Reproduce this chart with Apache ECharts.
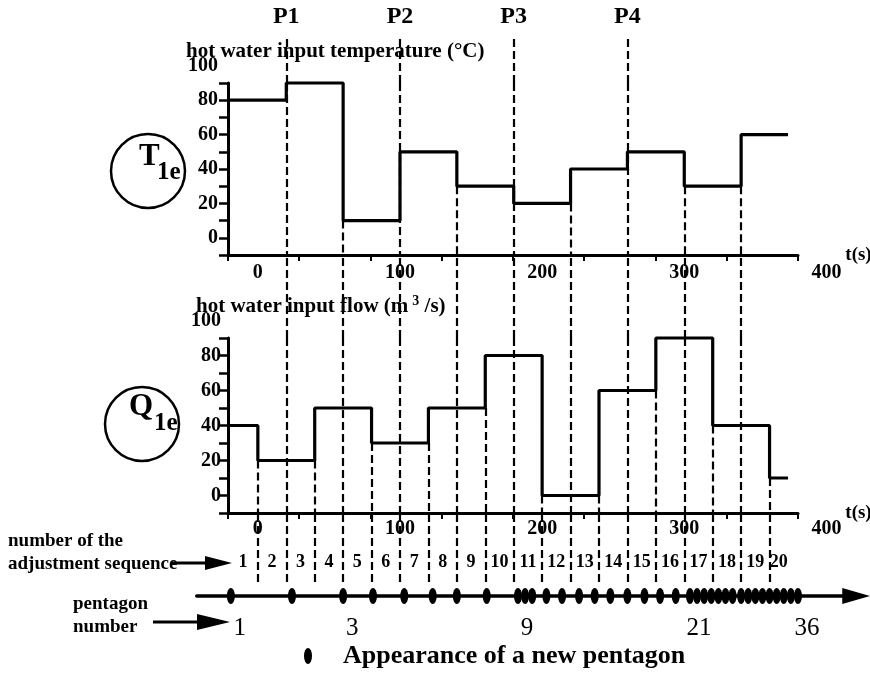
<!DOCTYPE html>
<html><head><meta charset="utf-8">
<script src="https://cdn.jsdelivr.net/npm/echarts@6/dist/echarts.min.js"></script>
<style>html,body{margin:0;padding:0;background:#fff}#c{width:870px;height:674px}</style>
</head><body><div id="c"></div>
<script>
// ---------------- data ----------------
const timeTickLabels = [0, 100, 200, 300, 400];
const valueTickLabels = [0, 20, 40, 60, 80, 100];
const signalStart = -21;            // the step signals start at the value axis
const signalEnd = 373;
const tempChangeTimes = [20, 60, 100, 140, 180, 220, 260, 300, 340];
const tempLevels = [80, 90, 10, 50, 30, 20, 40, 50, 30, 60];
const flowChangeTimes = [0, 40, 80, 120, 160, 200, 240, 280, 320, 360];
const flowLevels = [40, 20, 50, 30, 50, 80, 0, 60, 90, 40, 10];
const pointNames = ['P1', 'P2', 'P3', 'P4'];
const pointTimes = [20, 100, 180, 260];
const sequenceNumbers = [1, 2, 3, 4, 5, 6, 7, 8, 9, 10, 11, 12, 13, 14, 15, 16, 17, 18, 19, 20];
const pentagonTimes = [-19, 24, 60, 81, 103, 123, 140, 161, 183, 188, 193,
  203, 214, 226, 237, 248, 260, 272, 283, 294,
  304, 309, 314, 319, 324, 329, 334, 340, 345, 350, 355, 360, 365, 370, 375, 380];
const pentagonLabelNumbers = [1, 3, 9, 21, 36];
const legendName = 'Appearance of a new pentagon';

// ---------------- layout ----------------
const FONT = "'Liberation Serif','Times New Roman',serif";
const X0 = 257.85, XS = 1.4214;          // px of t = 0, px per second
const AX_MIN = -21, AX_MAX = 380, LAB_MAX = 400;
const VMIN = -10, VMAX = 90, LAB_VMAX = 100;
const T_BOTTOM = 255, T_PX = 1.72, Q_BOTTOM = 513, Q_PX = 1.75;
const SEQ_LABEL_Y = 0.28;
const ELLIPSE = 'path://M0,10A5,10 0 1,1 10,10A5,10 0 1,1 0,10Z';

function hGrid(a, b) { return { left: X0 + a * XS, width: (b - a) * XS }; }
function vGrid(bottom, px, a, b) { return { top: bottom - (b - a) * px, height: (b - a) * px }; }
function grid(h, v) { return Object.assign({ outerBoundsMode: 'none', containLabel: false }, h, v); }
const tTop = T_BOTTOM - (VMAX - VMIN) * T_PX;

const grids = [
  grid(hGrid(AX_MIN, AX_MAX), { top: 35, height: tTop - 35 }),                 // 0 P-line tops
  grid(hGrid(AX_MIN, AX_MAX), vGrid(T_BOTTOM, T_PX, VMIN, VMAX)),              // 1 temperature
  grid(hGrid(AX_MIN, LAB_MAX), vGrid(T_BOTTOM, T_PX, VMIN, LAB_VMAX)),         // 2 temperature labels
  grid(hGrid(AX_MIN, AX_MAX), { top: T_BOTTOM, height: Q_BOTTOM - (VMAX - VMIN) * Q_PX - T_BOTTOM }), // 3 gap
  grid(hGrid(AX_MIN, AX_MAX), vGrid(Q_BOTTOM, Q_PX, VMIN, VMAX)),              // 4 flow
  grid(hGrid(AX_MIN, LAB_MAX), vGrid(Q_BOTTOM, Q_PX, VMIN, LAB_VMAX)),         // 5 flow labels
  grid(hGrid(AX_MIN, AX_MAX), { top: Q_BOTTOM, height: 69 }),                  // 6 sequence row
  grid(hGrid(-43, 421), { top: 576, height: 20 })                              // 7 pentagon row
];

const black = '#000';
const labelFont = { fontFamily: FONT, fontSize: 20, fontWeight: 'bold', color: black };
function hiddenX(gi, a, b) { return { gridIndex: gi, type: 'value', min: a, max: b, show: false }; }
function hiddenY(gi, a, b) { return { gridIndex: gi, type: 'value', min: a, max: b, show: false }; }
function evenTicks(a, b, n) { const r = []; for (let k = 0; k <= n; k++) r.push(a + k * (b - a) / n); return r; }

function lineX(gi) {
  return { gridIndex: gi, type: 'value', min: AX_MIN, max: AX_MAX,
    axisLine: { show: true, onZero: false, lineStyle: { color: black, width: 3 } },
    axisTick: { show: true, length: 6, lineStyle: { color: black, width: 2 }, customValues: evenTicks(AX_MIN, AX_MAX, 8) },
    axisLabel: { show: false }, splitLine: { show: false } };
}
function lineY(gi) {
  return { gridIndex: gi, type: 'value', min: VMIN, max: VMAX, interval: 10,
    axisLine: { show: true, onZero: false, lineStyle: { color: black, width: 3 } },
    axisTick: { show: true, length: 9, lineStyle: { color: black, width: 2.5 } },
    axisLabel: { show: false }, splitLine: { show: false } };
}
function labelX(gi, margin, namePad) {
  return { gridIndex: gi, type: 'value', min: AX_MIN, max: LAB_MAX,
    axisLine: { show: false, onZero: false }, axisTick: { show: false }, splitLine: { show: false },
    axisLabel: Object.assign({ customValues: timeTickLabels, margin: margin, showMinLabel: true, showMaxLabel: true }, labelFont),
    name: 't(s)', nameLocation: 'end', nameGap: 5,
    nameTextStyle: { fontFamily: FONT, fontSize: 19, fontWeight: 'bold', color: black, verticalAlign: 'middle', padding: namePad } };
}
function labelY(gi, margin) {
  return { gridIndex: gi, type: 'value', min: VMIN, max: LAB_VMAX,
    axisLine: { show: false, onZero: false }, axisTick: { show: false }, splitLine: { show: false },
    axisLabel: Object.assign({ customValues: valueTickLabels, margin: margin, showMinLabel: true, showMaxLabel: true }, labelFont) };
}

const xAxes = [
  hiddenX(0, AX_MIN, AX_MAX), lineX(1), labelX(2, 8, [0, 0, 0, 0]), hiddenX(3, AX_MIN, AX_MAX),
  lineX(4), labelX(5, 6, [0, 0, 8, 0]), hiddenX(6, AX_MIN, AX_MAX),
  { gridIndex: 7, type: 'value', min: -43, max: 421,
    axisLine: { show: true, onZero: false, symbol: ['none', 'triangle'], symbolSize: [16, 28], lineStyle: { color: black, width: 3.5 } },
    axisTick: { show: false }, axisLabel: { show: false }, splitLine: { show: false } }
];
const yAxes = [
  hiddenY(0, 0, 1), lineY(1), labelY(2, 10), hiddenY(3, 0, 1),
  lineY(4), labelY(5, 7), hiddenY(6, 0, 1), hiddenY(7, 0, 1)
];

// ---------------- series ----------------
function stepData(changes, levels) {
  const d = [[signalStart, levels[0]]];
  changes.forEach((t, i) => d.push([t, levels[i + 1]]));
  d.push([signalEnd, levels[levels.length - 1]]);
  return d;
}
const dash = { color: black, width: 2.2, type: [8, 4], opacity: 1 };
function dashed(gi, segs) {
  return { type: 'lines', coordinateSystem: 'cartesian2d', xAxisIndex: gi, yAxisIndex: gi,
    silent: true, lineStyle: dash, data: segs.map(s => ({ coords: s })) };
}
const full = (times, a, b) => times.map(t => [[t, a], [t, b]]);
const fromLower = (times, levels) => times.map((t, i) => [[t, Math.min(levels[i], levels[i + 1])], [t, VMIN]]);

const tempGuides = tempChangeTimes.map((t, i) => pointTimes.includes(t)
  ? [[t, VMAX], [t, VMIN]]
  : [[t, Math.min(tempLevels[i], tempLevels[i + 1])], [t, VMIN]]);

const boundaries = [signalStart].concat(tempChangeTimes, flowChangeTimes, [signalEnd]).sort((a, b) => a - b);
const seqData = sequenceNumbers.map((n, i) => ({ value: [(boundaries[i] + boundaries[i + 1]) / 2, SEQ_LABEL_Y], name: String(n) }));

const pentData = pentagonTimes.map((t, i) => {
  const n = i + 1;
  const item = { value: [t, 0] };
  if (pentagonLabelNumbers.includes(n)) {
    item.label = { show: true, position: 'bottom', distance: 12, offset: [9, 0], formatter: String(n),
      fontFamily: FONT, fontSize: 25, color: black, opacity: 1 };
  }
  return item;
});

const solidItem = { color: black, opacity: 1 };
const series = [
  { type: 'line', xAxisIndex: 1, yAxisIndex: 1, step: 'end', symbol: 'none', clip: false,
    lineStyle: { color: black, width: 3.2 }, data: stepData(tempChangeTimes, tempLevels) },
  { type: 'line', xAxisIndex: 4, yAxisIndex: 4, step: 'end', symbol: 'none', clip: false,
    lineStyle: { color: black, width: 3.2 }, data: stepData(flowChangeTimes, flowLevels) },
  dashed(0, full(pointTimes, 0, 1)),
  dashed(1, tempGuides),
  dashed(3, full(tempChangeTimes, 0, 1)),
  dashed(4, full(tempChangeTimes, VMAX, VMIN).concat(fromLower(flowChangeTimes, flowLevels))),
  dashed(6, full(tempChangeTimes.concat(flowChangeTimes), 0, 1)),
  { type: 'scatter', xAxisIndex: 0, yAxisIndex: 0, symbolSize: 0, silent: true, itemStyle: solidItem,
    data: pointTimes.map((t, i) => ({ value: [t, 1], name: pointNames[i] })),
    label: { show: true, position: 'top', distance: 6, formatter: '{b}', fontFamily: FONT, fontSize: 24, fontWeight: 'bold', color: black, opacity: 1 } },
  { type: 'scatter', xAxisIndex: 6, yAxisIndex: 6, symbolSize: 0, silent: true, data: seqData, itemStyle: solidItem,
    label: { show: true, position: 'inside', formatter: '{b}', fontFamily: FONT, fontSize: 18, fontWeight: 'bold', color: black, opacity: 1 } },
  { type: 'scatter', name: legendName, xAxisIndex: 7, yAxisIndex: 7, symbol: ELLIPSE, symbolSize: [8, 16],
    itemStyle: solidItem, data: pentData, z: 5 }
];

const titleStyle = { fontFamily: FONT, fontSize: 21, fontWeight: 'bold', color: black };
const option = {
  animation: false,
  backgroundColor: '#fff',
  textStyle: { fontFamily: FONT },
  grid: grids, xAxis: xAxes, yAxis: yAxes, series: series,
  title: [
    { text: 'hot water input temperature (°C)', left: 186, top: 41, padding: 0, textStyle: titleStyle },
    { text: 'hot water input flow (m{s|3} /s)', left: 196, top: 294, padding: 0,
      textStyle: Object.assign({}, titleStyle, { rich: { s: { fontFamily: FONT, fontSize: 14, fontWeight: 'bold', color: black, verticalAlign: 'top', padding: [0, 0, 12, 4] } } }) },
    { text: 'number of the\nadjustment sequence', left: 8, top: 530, padding: 0,
      textStyle: Object.assign({}, titleStyle, { fontSize: 19, lineHeight: 23 }) },
    { text: 'pentagon\nnumber', left: 73, top: 593, padding: 0,
      textStyle: Object.assign({}, titleStyle, { fontSize: 19, lineHeight: 23 }) }
  ],
  legend: { data: [{ name: legendName, icon: ELLIPSE }], left: 304, top: 643, padding: 0,
    itemWidth: 8, itemHeight: 16, selectedMode: false,
    itemStyle: { color: black, opacity: 1 },
    textStyle: { fontFamily: FONT, fontSize: 26, fontWeight: 'bold', color: black, padding: [0, 0, 0, 26] } },
  graphic: [
    { type: 'circle', shape: { cx: 148, cy: 171, r: 37 }, style: { fill: 'none', stroke: black, lineWidth: 2.5 } },
    { type: 'text', x: 139, y: 157, style: { text: 'T', fontFamily: FONT, fontSize: 31, fontWeight: 'bold', fill: black, verticalAlign: 'middle' } },
    { type: 'text', x: 157, y: 173, style: { text: '1e', fontFamily: FONT, fontSize: 25, fontWeight: 'bold', fill: black, verticalAlign: 'middle' } },
    { type: 'circle', shape: { cx: 142, cy: 424, r: 37 }, style: { fill: 'none', stroke: black, lineWidth: 2.5 } },
    { type: 'text', x: 129, y: 407, style: { text: 'Q', fontFamily: FONT, fontSize: 31, fontWeight: 'bold', fill: black, verticalAlign: 'middle' } },
    { type: 'text', x: 154, y: 424, style: { text: '1e', fontFamily: FONT, fontSize: 25, fontWeight: 'bold', fill: black, verticalAlign: 'middle' } },
    { type: 'line', shape: { x1: 172, y1: 563, x2: 210, y2: 563 }, style: { stroke: black, lineWidth: 3 } },
    { type: 'polygon', shape: { points: [[205, 556], [232, 563], [205, 570]] }, style: { fill: black } },
    { type: 'line', shape: { x1: 153, y1: 622, x2: 200, y2: 622 }, style: { stroke: black, lineWidth: 3 } },
    { type: 'polygon', shape: { points: [[197, 614], [230, 622], [197, 630]] }, style: { fill: black } }
  ]
};

const chart = echarts.init(document.getElementById('c'), null, { renderer: 'canvas' });
chart.setOption(option);
</script>
</body></html>
